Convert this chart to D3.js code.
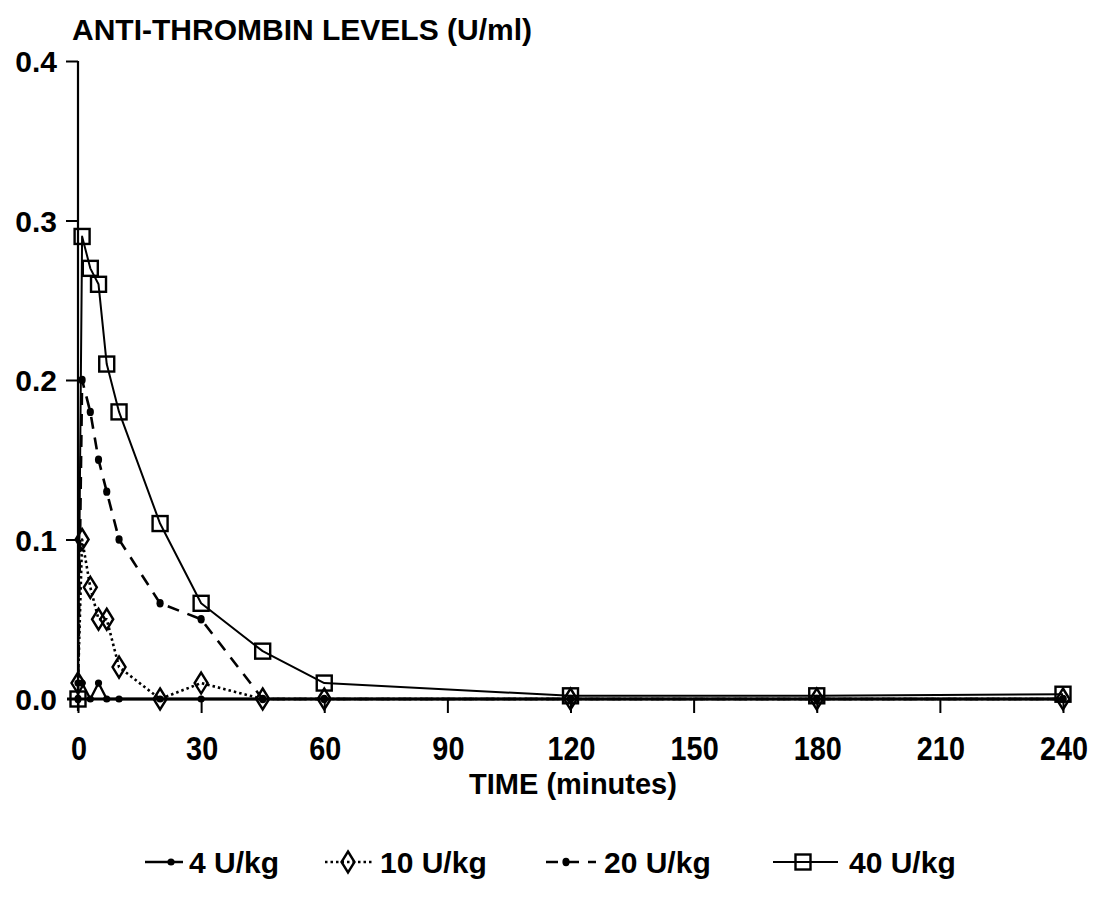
<!DOCTYPE html>
<html>
<head>
<meta charset="utf-8">
<script src="https://cdn.jsdelivr.net/npm/d3@7"></script>
<style>
  html, body { margin: 0; padding: 0; background: #fff; }
  svg { display: block; }
  text { font-family: "Liberation Sans", Arial, Helvetica, sans-serif; font-weight: bold; fill: #000; }
</style>
</head>
<body>
<svg id="chart" width="1095" height="902"></svg>
<script>
// Sampling times (minutes) and anti-thrombin levels (U/ml) per dose group
const times  = [0, 1, 3, 5, 7, 10, 20, 30, 45, 60, 120, 180, 240];
const dose4  = [0.01, 0.01, 0.0, 0.01, 0.0, 0.0, 0.0, 0.0, 0.0, 0.0, 0.0, 0.0, 0.0];
const dose10 = [0.01, 0.10, 0.07, 0.05, 0.05, 0.02, 0.0, 0.01, 0.0, 0.0, 0.0, 0.0, 0.0];
const dose20 = [0.0, 0.20, 0.18, 0.15, 0.13, 0.10, 0.06, 0.05, 0.0, 0.0, 0.0, 0.0, 0.0];
const dose40 = [0.0, 0.29, 0.27, 0.26, 0.21, 0.18, 0.11, 0.06, 0.03, 0.01, 0.002, 0.002, 0.003];

const seriesNames = ["4 U/kg", "10 U/kg", "20 U/kg", "40 U/kg"];
const xTicks = [0, 30, 60, 90, 120, 150, 180, 210, 240];
const yTicks = [0.0, 0.1, 0.2, 0.3, 0.4];
const yTitle = "ANTI-THROMBIN LEVELS (U/ml)";
const xTitle = "TIME (minutes)";

const svg = d3.select("#chart");
const x = d3.scaleLinear().domain([0, 240]).range([78, 1063]);
const y = d3.scaleLinear().domain([0, 0.4]).range([699, 61]);

// line / marker styles for each dose group
const styles = [
  { values: dose4,  dash: null,    width: 2.4, marker: "dot" },
  { values: dose10, dash: "2.5,3", width: 2.6, marker: "diamond" },
  { values: dose20, dash: "12,9",  width: 2.6, marker: "fdot" },
  { values: dose40, dash: null,    width: 2.0, marker: "square" }
];

function drawMarker(g, kind, cx, cy) {
  if (kind === "dot") {
    g.append("circle").attr("cx", cx).attr("cy", cy).attr("r", 3.6).attr("fill", "#000");
  } else if (kind === "fdot") {
    g.append("ellipse").attr("cx", cx).attr("cy", cy).attr("rx", 3.6).attr("ry", 4.2).attr("fill", "#000");
  } else if (kind === "diamond") {
    const w = 6.5, h = 10.5;
    g.append("path")
      .attr("d", `M${cx},${cy - h}L${cx + w},${cy}L${cx},${cy + h}L${cx - w},${cy}Z`)
      .attr("fill", "none").attr("stroke", "#000").attr("stroke-width", 2.4);
  } else if (kind === "square") {
    const s = 7.5;
    g.append("rect").attr("x", cx - s).attr("y", cy - s).attr("width", 2 * s).attr("height", 2 * s)
      .attr("fill", "none").attr("stroke", "#000").attr("stroke-width", 2.4);
  }
}

// Axes
const yAxis = d3.axisLeft(y).tickValues(yTicks.slice(1)).tickSize(12).tickFormat("");
const gy = svg.append("g").attr("transform", `translate(${x(0)},0)`).call(yAxis);
gy.select(".domain").attr("d", `M0,${y(0) + 12}V${y(0.4)}`).attr("stroke", "#000").attr("stroke-width", 2.2);
gy.selectAll(".tick line").attr("stroke", "#000").attr("stroke-width", 2);

const xAxis = d3.axisBottom(x).tickValues(xTicks).tickSize(14).tickFormat("");
const gx = svg.append("g").attr("transform", `translate(0,${y(0)})`).call(xAxis);
gx.select(".domain").attr("d", `M${x(0) - 11},0H${x(240)}`).attr("stroke", "#000").attr("stroke-width", 3);
gx.selectAll(".tick line").attr("stroke", "#000").attr("stroke-width", 2);

// Tick labels
svg.append("g").selectAll("text").data(yTicks).join("text")
  .attr("x", 57).attr("y", d => y(d) + 11)
  .attr("text-anchor", "end").attr("font-size", 30)
  .text(d => d.toFixed(1));

svg.append("g").selectAll("text").data(xTicks).join("text")
  .attr("transform", d => `translate(${x(d) + 1},760) scale(0.96,1.1)`)
  .attr("text-anchor", "middle").attr("font-size", 30)
  .text(d => d);

svg.append("text").attr("x", 72).attr("y", 40).attr("font-size", 30).text(yTitle);
svg.append("text").attr("x", 573).attr("y", 794).attr("text-anchor", "middle").attr("font-size", 29).text(xTitle);

// Series lines and markers
const plot = svg.append("g");
styles.forEach(s => {
  const pts = times.map((t, i) => [t, s.values[i]]);
  const line = d3.line().x(d => x(d[0])).y(d => y(d[1]));
  plot.append("path").attr("d", line(pts))
    .attr("fill", "none").attr("stroke", "#000").attr("stroke-width", s.width)
    .attr("stroke-dasharray", s.dash).attr("stroke-linejoin", "round");
  const mg = plot.append("g");
  pts.forEach(p => drawMarker(mg, s.marker, x(p[0]), y(p[1])));
});

// Legend
const legendItems = [
  { x0: 145, x1: 183, mx: 171, tx: 189 },
  { x0: 325, x1: 372, mx: 348, tx: 380 },
  { x0: 546, x1: 596, mx: 566, tx: 604 },
  { x0: 773, x1: 838, mx: 803, tx: 849 }
];
const ly = 862;
const legend = svg.append("g");
legendItems.forEach((it, i) => {
  const s = styles[i];
  legend.append("line").attr("x1", it.x0).attr("x2", it.x1).attr("y1", ly).attr("y2", ly)
    .attr("stroke", "#000").attr("stroke-width", s.width).attr("stroke-dasharray", s.dash);
  drawMarker(legend, s.marker, it.mx, ly);
  legend.append("text").attr("x", it.tx).attr("y", ly + 11).attr("font-size", 30).text(seriesNames[i]);
});
</script>
</body>
</html>
